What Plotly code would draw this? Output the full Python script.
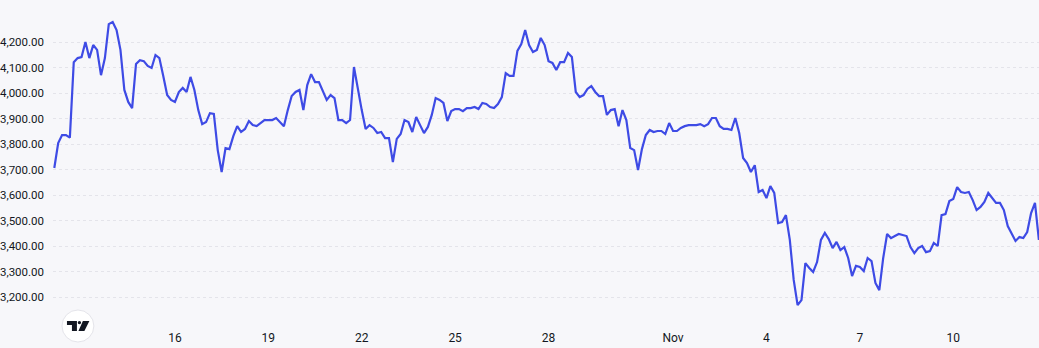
import plotly.graph_objects as go
import pandas as pd

# ---- data ----
start_time = "2025-10-12 03:00"
step = "3h"
prices = [
    3706, 3804, 3835, 3835, 3825, 4121, 4137, 4141, 4200, 4137,
    4188, 4169, 4070, 4137, 4270, 4278, 4247, 4169, 4012, 3965,
    3941, 4114, 4129, 4125, 4106, 4098, 4149, 4137, 4067, 3992,
    3973, 3965, 4004, 4020, 4004, 4063, 4012, 3933, 3878, 3886,
    3921, 3918, 3776, 3690, 3784, 3780, 3831, 3870, 3847, 3859,
    3890, 3874, 3870, 3882, 3894, 3894, 3894, 3902, 3886, 3870,
    3933, 3988, 4004, 4012, 3933, 4031, 4074, 4043, 4043, 4004,
    3973, 3992, 3980, 3894, 3894, 3882, 3894, 4102, 4012, 3933,
    3859, 3874, 3863, 3843, 3847, 3823, 3823, 3729, 3820, 3839,
    3894, 3886, 3847, 3906, 3874, 3843, 3867, 3914, 3980, 3973,
    3961, 3890, 3929, 3937, 3937, 3929, 3941, 3941, 3945, 3937,
    3961, 3957, 3945, 3941, 3957, 3984, 4078, 4067, 4067, 4165,
    4192, 4247, 4188, 4161, 4169, 4216, 4188, 4125, 4118, 4090,
    4121, 4121, 4157, 4141, 4004, 3984, 3992, 4016, 4027, 4004,
    3988, 3988, 3914, 3933, 3937, 3870, 3933, 3894, 3784, 3776,
    3698, 3780, 3835, 3855, 3847, 3851, 3851, 3839, 3882, 3851,
    3851, 3863, 3870, 3874, 3874, 3874, 3878, 3870, 3878, 3902,
    3902, 3870, 3859, 3859, 3855, 3902, 3843, 3745, 3725, 3690,
    3717, 3612, 3620, 3588, 3635, 3608, 3490, 3494, 3521, 3424,
    3267, 3168, 3188, 3333, 3314, 3298, 3337, 3424, 3451, 3427,
    3392, 3416, 3384, 3396, 3353, 3282, 3322, 3318, 3302, 3353,
    3341, 3255, 3227, 3353, 3447, 3431, 3439, 3447, 3443, 3439,
    3396, 3372, 3392, 3400, 3376, 3380, 3412, 3400, 3521, 3525,
    3576, 3584, 3631, 3612, 3608, 3612, 3580, 3541, 3553, 3573,
    3608, 3588, 3569, 3569, 3541, 3478, 3447, 3420, 3435, 3431,
    3455, 3529, 3569, 3424,
]
tick_dates = ["2025-10-16", "2025-10-19", "2025-10-22", "2025-10-25", "2025-10-28",
              "2025-11-01", "2025-11-04", "2025-11-07", "2025-11-10"]
tick_labels = ["16", "19", "22", "25", "28", "Nov", "4", "7", "10"]
price_ticks = [3200, 3300, 3400, 3500, 3600, 3700, 3800, 3900, 4000, 4100, 4200]

times = pd.date_range(start_time, periods=len(prices), freq=step)

W, H = 1039, 348
ML, MB = 50, 26
PW, PH = W - ML, H - MB
BG = "#f7f7fa"
TEXT = "#131722"

fig = go.Figure()
fig.add_trace(go.Scatter(
    x=times, y=prices, mode="lines",
    line=dict(color="#3e4be5", width=2.2),
    hoverinfo="skip", showlegend=False,
))

# TradingView-style logo badge (decoration, placed in pixel space)
def px(X):
    return (X - ML) / PW

def py(Y):
    return (PH - Y) / PH

def path(pts):
    return "M " + " L ".join(f"{px(a):.5f},{py(b):.5f}" for a, b in pts) + " Z"

shapes = [
    dict(type="circle", xref="paper", yref="paper",
         x0=px(59), x1=px(91), y0=py(342), y1=py(310),
         fillcolor="#ffffff", line=dict(color="#e4e4ea", width=1), layer="above"),
    dict(type="path", xref="paper", yref="paper",
         path=path([(64, 321), (74, 321), (74, 331), (69, 331), (69, 325), (64, 325)]),
         fillcolor="#131722", line=dict(width=0), layer="above"),
    dict(type="circle", xref="paper", yref="paper",
         x0=px(74.8), x1=px(78.2), y0=py(324.3), y1=py(320.9),
         fillcolor="#131722", line=dict(width=0), layer="above"),
    dict(type="path", xref="paper", yref="paper",
         path=path([(80, 321), (86.5, 321), (81.5, 331), (75.5, 331)]),
         fillcolor="#131722", line=dict(width=0), layer="above"),
]

fig.update_layout(
    width=W, height=H,
    margin=dict(l=ML, r=0, t=0, b=MB, pad=0),
    paper_bgcolor=BG, plot_bgcolor=BG,
    font=dict(family="Roboto, 'Open Sans', sans-serif", size=12, color=TEXT),
    shapes=shapes,
    xaxis=dict(
        range=["2025-10-12 02:00", "2025-11-12 18:06"],
        tickvals=tick_dates, ticktext=tick_labels,
        showgrid=False, zeroline=False, showline=False, ticks="",
        tickfont=dict(size=12, color=TEXT), ticklabelstandoff=7,
        fixedrange=True,
    ),
    yaxis=dict(
        range=[3102.0, 4364.7],
        tickvals=price_ticks, tickformat=",.2f",
        showgrid=True, gridcolor="#e4e4ea", gridwidth=1, griddash="3px,3px",
        zeroline=False, showline=False, ticks="",
        tickfont=dict(size=11.5, color=TEXT), ticklabelstandoff=8,
        fixedrange=True,
    ),
)

fig.write_html("out.html", config={"displayModeBar": False})
